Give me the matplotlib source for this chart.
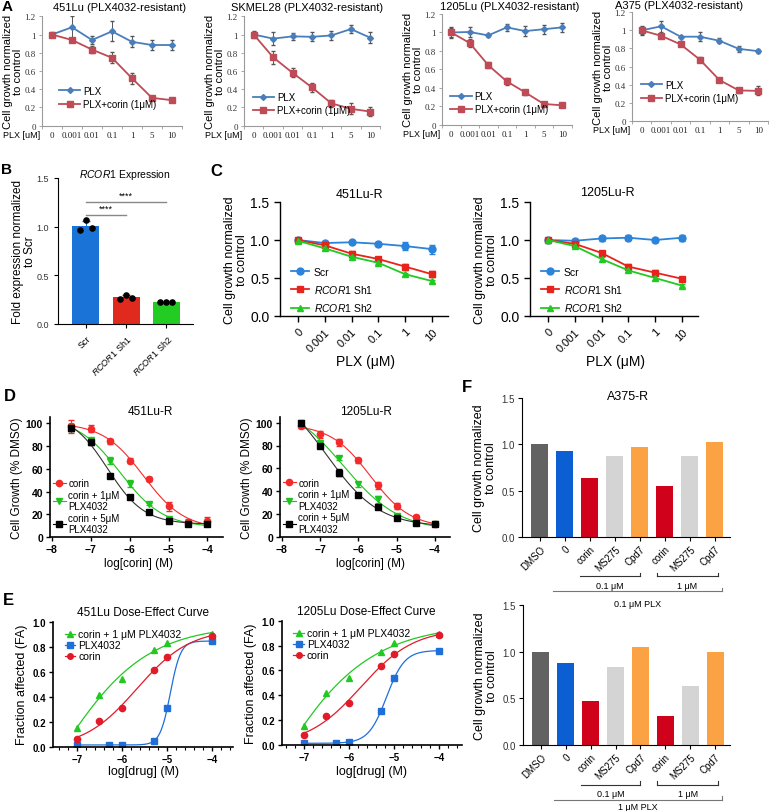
import numpy as np
import matplotlib
matplotlib.use("Agg")
import matplotlib.pyplot as plt
import matplotlib.transforms as mtransforms
from matplotlib.lines import Line2D
from matplotlib.ticker import MultipleLocator

plt.rcParams['font.family'] = ['Liberation Sans', 'DejaVu Sans']
plt.rcParams['mathtext.fontset'] = 'custom'
plt.rcParams['mathtext.it'] = 'Liberation Sans:italic'
plt.rcParams['mathtext.rm'] = 'Liberation Sans'
plt.rcParams['axes.facecolor'] = 'none'

W, H = 769, 812

#===[ PANEL A ]===#
A_DOSES = ["0", "0.001", "0.01", "0.1", "1", "5", "10"]

A_451_PLX = [1.0, 1.08, 0.94, 1.035, 0.92, 0.885, 0.885]
A_451_PLX_ERR = [0.03, 0.12, 0.04, 0.11, 0.06, 0.06, 0.05]
A_451_COR = [1.0, 0.94, 0.835, 0.745, 0.52, 0.305, 0.28]
A_451_COR_ERR = [0.02, 0.02, 0.04, 0.06, 0.06, 0.02, 0.02]

A_SKM_PLX = [1.0, 0.955, 0.98, 0.975, 0.99, 1.06, 0.965]
A_SKM_PLX_ERR = [0.04, 0.07, 0.04, 0.05, 0.05, 0.04, 0.06]
A_SKM_COR = [1.0, 0.75, 0.58, 0.42, 0.245, 0.185, 0.155]
A_SKM_COR_ERR = [0.03, 0.07, 0.05, 0.05, 0.04, 0.06, 0.05]

A_1205_PLX = [1.0, 1.005, 0.968, 1.055, 1.015, 1.035, 1.055]
A_1205_PLX_ERR = [0.06, 0.05, 0.02, 0.04, 0.05, 0.05, 0.05]
A_1205_COR = [1.0, 0.885, 0.645, 0.47, 0.35, 0.225, 0.21]
A_1205_COR_ERR = [0.05, 0.04, 0.03, 0.04, 0.03, 0.01, 0.01]

A_A375_PLX = [1.0, 1.045, 0.93, 0.93, 0.885, 0.795, 0.77]
A_A375_PLX_ERR = [0.04, 0.06, 0.01, 0.05, 0.03, 0.03, 0.02]
A_A375_COR = [1.0, 0.94, 0.845, 0.675, 0.45, 0.335, 0.33]
A_A375_COR_ERR = [0.05, 0.01, 0.02, 0.03, 0.02, 0.03, 0.05]

#===[ PANEL B ]===#
B_GROUPS = ["Scr", r"$\it{RCOR1}$ Sh1", r"$\it{RCOR1}$ Sh2"]
B_SCR = [0.97, 1.065, 0.985]
B_SH1 = [0.26, 0.30, 0.27]
B_SH2 = [0.225, 0.225, 0.225]

#===[ PANEL C ]===#
C_DOSES = ["0", "0.001", "0.01", "0.1", "1", "10"]
C_451_SCR = [1.0, 0.96, 0.97, 0.95, 0.92, 0.88]
C_451_SCR_ERR = [0.02, 0.02, 0.02, 0.03, 0.05, 0.06]
C_451_SH1 = [1.0, 0.93, 0.82, 0.75, 0.65, 0.55]
C_451_SH1_ERR = [0.02, 0.02, 0.03, 0.02, 0.04, 0.04]
C_451_SH2 = [0.99, 0.89, 0.78, 0.70, 0.55, 0.46]
C_451_SH2_ERR = [0.02, 0.02, 0.02, 0.02, 0.02, 0.02]

C_1205_SCR = [1.0, 0.99, 1.02, 1.03, 1.0, 1.03]
C_1205_SCR_ERR = [0.01, 0.02, 0.03, 0.03, 0.02, 0.04]
C_1205_SH1 = [1.0, 0.95, 0.83, 0.65, 0.57, 0.49]
C_1205_SH1_ERR = [0.01, 0.02, 0.03, 0.03, 0.03, 0.02]
C_1205_SH2 = [1.0, 0.92, 0.75, 0.60, 0.50, 0.40]
C_1205_SH2_ERR = [0.01, 0.02, 0.03, 0.02, 0.02, 0.02]

#===[ PANEL D ]===#
D_LOGC = [-7.5, -7.0, -6.5, -6.0, -5.5, -5.0, -4.5, -4.0]
D_451_COR = [97, 95, 84, 67, 51, 27, 13, 14]
D_451_COR_ERR = [6, 3, 2, 2, 2, 4, 3, 4]
D_451_P1 = [96, 85, 67, 47, 29, 16, 12, 12]
D_451_P1_ERR = [3, 2, 3, 3, 1, 1, 1, 1]
D_451_P5 = [96, 83, 54, 35, 22, 14, 12, 12]
D_451_P5_ERR = [3, 2, 1, 1, 1, 1, 1, 1]

D_1205_COR = [97, 90, 83, 67, 45, 27, 17, 11]
D_1205_COR_ERR = [2, 3, 3, 2, 3, 3, 2, 2]
D_1205_P1 = [100, 82, 69, 46, 33, 18, 12, 11]
D_1205_P1_ERR = [1, 2, 2, 2, 3, 2, 1, 1]
D_1205_P5 = [100, 80, 56, 37, 26, 16, 12, 11]
D_1205_P5_ERR = [1, 2, 3, 1, 2, 1, 1, 1]

#===[ PANEL E ]===#
E_LOG_COR = [-7.0, -6.52, -6.0, -5.3, -5.0, -4.0]
E_LOG_PLX = [-7.0, -6.3, -6.0, -5.3, -5.0, -4.0]
E_451_COMBO = [0.15, 0.415, 0.545, 0.775, 0.83, 0.905]
E_451_PLX = [0.015, 0.015, 0.012, 0.045, 0.31, 0.845]
E_451_COR = [0.06, 0.205, 0.31, 0.615, 0.72, 0.885]
E_1205_COMBO = [0.155, 0.42, 0.54, 0.752, 0.82, 0.895]
E_1205_PLX = [0.015, 0.015, 0.025, 0.27, 0.535, 0.76]
E_1205_COR = [0.08, 0.23, 0.34, 0.635, 0.735, 0.885]

#===[ PANEL F ]===#
F_LABELS = ["DMSO", "0", "corin", "MS275", "Cpd7", "corin", "MS275", "Cpd7"]
F_COLORS = ["#626262", "#0b5fd3", "#d0021b", "#d4d4d4", "#fba245",
            "#d0021b", "#d4d4d4", "#fba245"]
F_TOP = [1.0, 0.925, 0.64, 0.87, 0.975, 0.545, 0.88, 1.025]
F_BOTTOM = [1.0, 0.88, 0.47, 0.835, 1.05, 0.31, 0.625, 0.99]

A_BLUE = "#4a7ebb"
A_RED = "#be4b55"
C_BLUE, C_RED, C_GREEN = "#2b83da", "#e8231c", "#22c922"
D_RED, D_GREEN, D_BLACK = "#f42a2a", "#1fc31f", "#000000"
E_GREEN, E_BLUE, E_RED = "#22c922", "#1f6fd8", "#e11b2a"


def px_axes(fig, x0, y_top, x1, y_bot):
    return fig.add_axes([x0 / W, 1 - y_bot / H, (x1 - x0) / W, (y_bot - y_top) / H])


def ftext(fig, x, y, s, **kw):
    kw.setdefault('ha', 'center')
    kw.setdefault('va', 'center')
    fig.text(x / W, 1 - y / H, s, **kw)


def fit_4pl(x, y):
    # least squares 4-parameter logistic, grid on (logEC50, hill), linear on (bottom, span)
    x = np.asarray(x, float)
    y = np.asarray(y, float)
    hs = np.linspace(0.3, 6, 120)[:, None, None]
    cs = np.linspace(-8.0, -3.5, 400)[None, :, None]
    s = 1 / (1 + 10 ** ((cs - x) * hs))
    n = len(x)
    Ss, Sss = s.sum(-1), (s * s).sum(-1)
    Sy, Ssy = y.sum(), (s * y).sum(-1)
    det = n * Sss - Ss ** 2
    ok = det > 1e-6
    det = np.where(ok, det, 1.0)
    a = (Sss * Sy - Ss * Ssy) / det
    b = (n * Ssy - Ss * Sy) / det
    err = ((a[..., None] + b[..., None] * s - y) ** 2).sum(-1)
    err = np.where(ok & np.isfinite(err), err, np.inf)
    i, j = np.unravel_index(np.argmin(err), err.shape)
    h, c = hs[i, 0, 0], cs[0, j, 0]
    aa, bb = a[i, j], b[i, j]
    return lambda t: aa + bb / (1 + 10 ** ((c - t) * h))


def prism_axes(ax, lw=1.0):
    for sp in ['top', 'right']:
        ax.spines[sp].set_visible(False)
    for sp in ['left', 'bottom']:
        ax.spines[sp].set_linewidth(lw)


fig = plt.figure(figsize=(W / 100, H / 100), dpi=100)

#===========================================================================#
#===[ A ]===================================================================#
#===========================================================================#
a_sets = [
    ("451Lu (PLX4032-resistant)", (42, 17.3, 182, 126.7), 120, 8,
     A_451_PLX, A_451_PLX_ERR, A_451_COR, A_451_COR_ERR, (0.08, 0.10)),
    ("SKMEL28 (PLX4032-resistant)", (244, 17.3, 380, 126.7), 307, 8,
     A_SKM_PLX, A_SKM_PLX_ERR, A_SKM_COR, A_SKM_COR_ERR, (0.02, 0.04)),
    ("1205Lu (PLX4032-resistant)", (442, 15, 571.5, 125.7), 510, 7,
     A_1205_PLX, A_1205_PLX_ERR, A_1205_COR, A_1205_COR_ERR, (0.02, 0.04)),
    ("A375 (PLX4032-resistant)", (632, 13.3, 768, 121.7), 679, 6,
     A_A375_PLX, A_A375_PLX_ERR, A_A375_COR, A_A375_COR_ERR, (0.02, 0.11)),
]
for title, box, tx, ty, plx, plx_e, cor, cor_e, lpos in a_sets:
    ax = px_axes(fig, *box)
    x = np.arange(len(A_DOSES))
    ax.errorbar(x, plx, yerr=plx_e, color=A_BLUE, marker='D', ms=3, lw=1.3,
                ecolor='#555555', elinewidth=0.7, capsize=1.5)
    ax.errorbar(x, cor, yerr=cor_e, color=A_RED, marker='s', ms=4, lw=1.3,
                ecolor='#555555', elinewidth=0.7, capsize=1.5)
    handles = [Line2D([], [], color=A_BLUE, marker='D', ms=3, lw=1.3, label='PLX'),
               Line2D([], [], color=A_RED, marker='s', ms=4, lw=1.3, label='PLX+corin (1μM)')]
    ax.set_xlim(-0.5, 6.5)
    ax.set_ylim(0, 1.2)
    ax.set_yticks(np.arange(0, 1.21, 0.2))
    ax.set_yticklabels(["0", "0.2", "0.4", "0.6", "0.8", "1", "1.2"],
                       family='Liberation Serif', fontsize=6.5, color='#333333')
    ax.set_xticks(x)
    ax.set_xticklabels(A_DOSES, family='Liberation Serif', fontsize=6.5, color='#222222')
    ax.tick_params(axis='x', length=0, pad=4)
    ax.tick_params(axis='y', length=2.5, width=0.6, color='#999999', pad=2)
    ax.set_xticks(np.arange(-0.5, 7, 1), minor=True)
    ax.tick_params(axis='x', which='minor', length=2.5, width=0.6, color='#999999')
    for sp in ['top', 'right']:
        ax.spines[sp].set_visible(False)
    for sp in ['left', 'bottom']:
        ax.spines[sp].set_color('#9a9a9a')
        ax.spines[sp].set_linewidth(0.8)
    ax.set_ylabel("Cell growth normalized\nto control", fontsize=8, linespacing=1.0, labelpad=1)
    ax.legend(handles=handles, loc='lower left', bbox_to_anchor=lpos, frameon=False,
              fontsize=7, handlelength=2.2, handletextpad=0.3, labelspacing=0.35,
              borderpad=0.1)
    ax.annotate("PLX [uM]", xy=(0, 0), xycoords='axes fraction', xytext=(-1.5, -6.5),
                textcoords='offset points', ha='right', va='center', fontsize=6.5)
    ftext(fig, tx, ty, title, fontsize=8)

ftext(fig, 7, 7, "A", fontsize=11, fontweight='bold')

#===========================================================================#
#===[ B ]===================================================================#
#===========================================================================#
ax = px_axes(fig, 58, 179, 193, 325)
b_vals = [B_SCR, B_SH1, B_SH2]
b_cols = ["#1a74d8", "#e02a1e", "#22cc22"]
xb = np.arange(3)
means = [np.mean(v) for v in b_vals]
sds = [np.std(v, ddof=1) for v in b_vals]
ax.bar(xb, means, width=0.67, color=b_cols, zorder=1)
for i, v in enumerate(b_vals):
    ax.errorbar(i, means[i], yerr=sds[i], color=b_cols[i], capsize=3, elinewidth=0.8, zorder=2)
    ax.scatter(i + np.array([-0.15, 0.0, 0.15]), v, s=14, color='k', zorder=3)
ax.plot([0, 2], [1.25, 1.25], color='#888888', lw=1)
ax.plot([0, 1], [1.12, 1.12], color='#888888', lw=1)
ax.text(1.0, 1.275, "****", ha='center', va='bottom', fontsize=6.5)
ax.text(0.5, 1.145, "****", ha='center', va='bottom', fontsize=6.5)
ax.set_xlim(-0.69, 2.66)
ax.set_ylim(0, 1.5)
ax.set_yticks([0, 0.5, 1.0, 1.5])
ax.set_yticklabels(["0.0", "0.5", "1.0", "1.5"], fontsize=6.5, color='#333333')
ax.set_xticks(xb)
ax.set_xticklabels(B_GROUPS, rotation=45, ha='right', rotation_mode='anchor', fontsize=6.5)
ax.tick_params(axis='both', length=3, width=0.8)
prism_axes(ax, 0.8)
ax.set_ylabel("Fold expression normalized\nto Scr", fontsize=8.5, linespacing=1.0, labelpad=0.5)
ftext(fig, 125, 175, r"$\it{RCOR1}$ Expression", fontsize=7.5)
ftext(fig, 7, 170, "B", fontsize=11, fontweight='bold')

#===========================================================================#
#===[ C ]===================================================================#
#===========================================================================#
c_sets = [
    ("451Lu-R", (280, 203, 448, 317), 360, 195, 365,
     C_451_SCR, C_451_SCR_ERR, C_451_SH1, C_451_SH1_ERR, C_451_SH2, C_451_SH2_ERR),
    ("1205Lu-R", (530, 203, 698, 317), 607, 193, 615,
     C_1205_SCR, C_1205_SCR_ERR, C_1205_SH1, C_1205_SH1_ERR, C_1205_SH2, C_1205_SH2_ERR),
]
for title, box, tx, ty, lx, scr, scr_e, sh1, sh1_e, sh2, sh2_e in c_sets:
    ax = px_axes(fig, *box)
    x = np.arange(len(C_DOSES))
    series = [(scr, scr_e, C_BLUE, 'o', 'Scr'),
              (sh1, sh1_e, C_RED, 's', r"$\it{RCOR1}$ Sh1"),
              (sh2, sh2_e, C_GREEN, '^', r"$\it{RCOR1}$ Sh2")]
    handles = []
    for ys, ye, col, mk, lab in series:
        ax.errorbar(x, ys, yerr=ye, color=col, marker=mk, ms=5, lw=1.3, capsize=2.5)
        handles.append(Line2D([], [], color=col, marker=mk, ms=5, lw=1.3, label=lab))
    ax.set_xlim(-0.67, 5.6)
    ax.set_ylim(0, 1.5)
    ax.set_yticks([0, 0.5, 1.0, 1.5])
    ax.set_yticklabels(["0.0", "0.5", "1.0", "1.5"], fontsize=10)
    ax.set_xticks(x)
    ax.set_xticklabels(C_DOSES, rotation=45, ha='right', rotation_mode='anchor', fontsize=8)
    ax.tick_params(axis='both', length=4, width=1)
    prism_axes(ax, 1.0)
    ax.set_ylabel("Cell growth normalized\nto control", fontsize=9, linespacing=1.0, labelpad=2)
    ax.legend(handles=handles, loc='lower left', bbox_to_anchor=(0.02, -0.04), frameon=False,
              fontsize=7.5, handlelength=1.8, handletextpad=0.4, labelspacing=0.6,
              borderpad=0.2)
    ftext(fig, tx, ty, title, fontsize=9)
    ftext(fig, lx, 362, "PLX (μM)", fontsize=10)
ftext(fig, 216, 172, "C", fontsize=12, fontweight='bold')

#===========================================================================#
#===[ D ]===================================================================#
#===========================================================================#
d_sets = [
    ("451Lu-R", (50, 418.3, 223, 538.3), 150, 412, 138,
     D_451_COR, D_451_COR_ERR, D_451_P1, D_451_P1_ERR, D_451_P5, D_451_P5_ERR),
    ("1205Lu-R", (280, 418, 450.2, 537.7), 366, 412, 370,
     D_1205_COR, D_1205_COR_ERR, D_1205_P1, D_1205_P1_ERR, D_1205_P5, D_1205_P5_ERR),
]
for title, box, tx, ty, lx, cor, cor_e, p1, p1_e, p5, p5_e in d_sets:
    ax = px_axes(fig, *box)
    xs = np.linspace(min(D_LOGC), max(D_LOGC), 200)
    series = [(cor, cor_e, D_RED, 'o', 'corin'),
              (p1, p1_e, D_GREEN, 'v', 'corin + 1μM\nPLX4032'),
              (p5, p5_e, D_BLACK, 's', 'corin + 5μM\nPLX4032')]
    for ys, ye, col, mk, lab in series:
        f = fit_4pl(D_LOGC, ys)
        ax.plot(xs, f(xs), color=col if col != D_BLACK else '#333333', lw=0.8)
        ax.errorbar(D_LOGC, ys, yerr=ye, fmt=mk, color=col, ms=4.5, capsize=2,
                    elinewidth=0.7)
        ax.plot([], [], color=col, marker=mk, ms=4.5, lw=0.8, label=lab)
    ax.set_xlim(-8.05, -3.6)
    ax.set_ylim(0, 105)
    ax.set_xticks([-8, -7, -6, -5, -4])
    ax.set_yticks([0, 20, 40, 60, 80, 100])
    for lab in ax.get_xticklabels() + ax.get_yticklabels():
        lab.set_fontweight('bold')
        lab.set_fontsize(7.5)
    ax.tick_params(axis='both', length=3, width=1, pad=2)
    prism_axes(ax, 1.2)
    ax.set_ylabel("Cell Growth (% DMSO)", fontsize=8.5, labelpad=2)
    ax.legend(loc='lower left', bbox_to_anchor=(0.0, 0.0), frameon=False, fontsize=7,
              handlelength=1.3, handletextpad=0.3, labelspacing=0.15, borderpad=0.2,
              borderaxespad=0.1)
    ftext(fig, tx, ty, title, fontsize=8.5)
    ftext(fig, lx, 564, "log[corin] (M)", fontsize=8.5)
ftext(fig, 10, 397, "D", fontsize=12, fontweight='bold')

#===========================================================================#
#===[ E ]===================================================================#
#===========================================================================#
e_sets = [
    ("451Lu Dose-Effect Curve", (53, 622.7, 233, 747.7), (-7.54, -3.54), 143, 613, 143,
     E_451_COMBO, E_451_PLX, E_451_COR),
    ("1205Lu Dose-Effect Curve", (281.7, 621.7, 461.7, 746), (-7.5, -3.5), 366, 612, 372,
     E_1205_COMBO, E_1205_PLX, E_1205_COR),
]
for title, box, xl, tx, ty, lx, combo, plx, cor in e_sets:
    ax = px_axes(fig, *box)
    series = [(E_LOG_COR, combo, E_GREEN, '^', 'corin + 1 μM PLX4032'),
              (E_LOG_PLX, plx, E_BLUE, 's', 'PLX4032'),
              (E_LOG_COR, cor, E_RED, 'o', 'corin')]
    for xx, ys, col, mk, lab in series:
        f = fit_4pl(xx, ys)
        xs = np.linspace(min(xx), max(xx), 300)
        ax.plot(xs, f(xs), color=col, lw=0.9)
        ax.plot(xx, ys, mk, color=col, ms=4.5)
        ax.plot([], [], color=col, marker=mk, ms=4, lw=0.9, label=lab)
    ax.set_xlim(*xl)
    ax.set_ylim(0, 1.0)
    ax.set_xticks([-7, -6, -5, -4])
    ax.xaxis.set_minor_locator(MultipleLocator(0.2))
    ax.set_yticks(np.arange(0, 1.01, 0.2))
    ax.set_yticklabels(["0.0", "0.2", "0.4", "0.6", "0.8", "1.0"])
    for lab in ax.get_xticklabels() + ax.get_yticklabels():
        lab.set_fontweight('bold')
        lab.set_fontsize(7)
    ax.tick_params(axis='both', length=3, width=1, pad=2)
    ax.tick_params(axis='x', which='minor', length=1.8, width=0.8)
    prism_axes(ax, 1.2)
    ax.set_ylabel("Fraction affected (FA)", fontsize=9, labelpad=3)
    ax.legend(loc='upper left', bbox_to_anchor=(0.03, 0.99), frameon=False, fontsize=7.5,
              handlelength=1.0, handletextpad=0.3, labelspacing=0.1, borderpad=0.1)
    ftext(fig, tx, ty, title, fontsize=8.5)
    ftext(fig, lx, 772, "log[drug] (M)", fontsize=9)
ftext(fig, 8, 601, "E", fontsize=12, fontweight='bold')

#===========================================================================#
#===[ F ]===================================================================#
#===========================================================================#


def bracket(ax, x0, x1, y, text, ty, color='#333333', left_tick=True):
    tr = mtransforms.blended_transform_factory(ax.transData, ax.transAxes)
    ax.plot([x0, x1], [y, y], color=color, lw=0.8, transform=tr, clip_on=False)
    ax.plot([x1, x1], [y, y + 0.025], color=color, lw=0.8, transform=tr, clip_on=False)
    if left_tick:
        ax.plot([x0, x0], [y, y + 0.025], color=color, lw=0.8, transform=tr, clip_on=False)
    ax.text((x0 + x1) / 2, ty, text, transform=tr, ha='center', va='center', fontsize=6.5)


f_sets = [((521.7, 399.3, 730, 537.7), F_TOP, "0.1 μM PLX", -0.48),
          ((522.7, 606, 730, 745.7), F_BOTTOM, "1 μM PLX", -0.445)]
for box, vals, plx_lab, plx_y in f_sets:
    ax = px_axes(fig, *box)
    xf = np.arange(len(F_LABELS))
    ax.bar(xf, vals, width=0.68, color=F_COLORS)
    ax.set_xlim(-0.73, 7.6)
    ax.set_ylim(0, 1.5)
    ax.set_yticks([0, 0.5, 1.0, 1.5])
    ax.set_yticklabels(["0.0", "0.5", "1.0", "1.5"], fontsize=7, color='#333333')
    ax.set_xticks(xf)
    ax.set_xticklabels(F_LABELS, rotation=45, ha='right', rotation_mode='anchor', fontsize=7)
    ax.tick_params(axis='both', length=3, width=0.8, pad=2)
    prism_axes(ax, 0.8)
    ax.set_ylabel("Cell growth normalized\nto control", fontsize=9, linespacing=1.0, labelpad=3)
    bracket(ax, 1.6, 4.0, -0.285, "0.1 μM", -0.35, left_tick=False)
    bracket(ax, 4.68, 7.12, -0.285, "1 μM", -0.35)
    bracket(ax, 0.52, 7.28, -0.395, plx_lab, plx_y, color='#777777', left_tick=False)
ftext(fig, 628, 397, "A375-R", fontsize=9)
ftext(fig, 467, 388, "F", fontsize=12, fontweight='bold')

fig.savefig("out.png", dpi=100)
